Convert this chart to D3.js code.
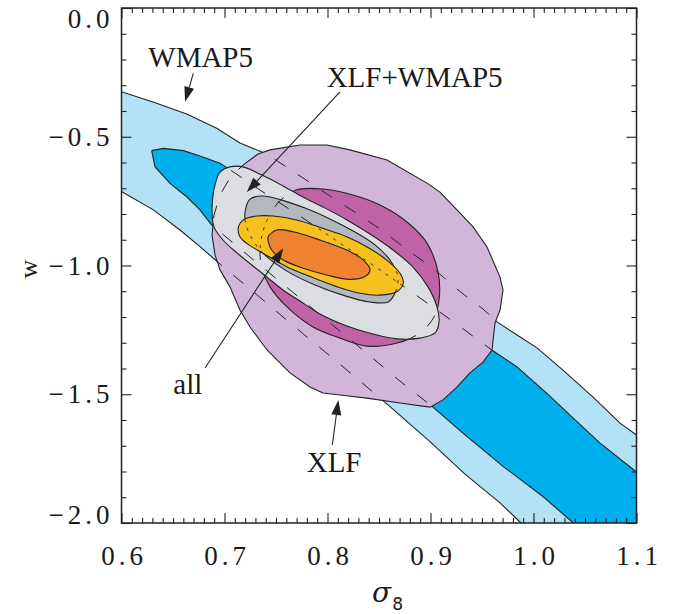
<!DOCTYPE html>
<html><head><meta charset="utf-8">
<script src="https://cdn.jsdelivr.net/npm/d3@7"></script>
<style>body{margin:0;background:#fff}svg{display:block}</style>
</head><body><svg id="chart" width="673" height="614"></svg>
<script>
// ---------- data (sigma_8, w) ----------
const xTicks = [0.6, 0.7, 0.8, 0.9, 1.0, 1.1];
const yTicks = [0.0, -0.5, -1.0, -1.5, -2.0];
const xTickLabels = ["0.6", "0.7", "0.8", "0.9", "1.0", "1.1"];
const yTickLabels = ["0.0", "\u22120.5", "\u22121.0", "\u22121.5", "\u22122.0"];

// WMAP5 95% band edges
const wmap2Upper = [[0.600,-0.325],[0.6306,-0.365],[0.6633,-0.412],[0.6924,-0.467],[0.7150,-0.524],[0.7410,-0.567],[0.7762,-0.660],[0.8024,-0.730],[0.8277,-0.796],[0.8539,-0.866],[0.8762,-0.936],[0.9024,-1.010],[0.9267,-1.095],[0.9510,-1.169],[0.9646,-1.219],[0.9840,-1.270],[1.0034,-1.320],[1.0286,-1.406],[1.0578,-1.511],[1.0840,-1.612],[1.100,-1.658]];
const wmap2Lower = [[0.600,-0.713],[0.6309,-0.784],[0.6568,-0.862],[0.6762,-0.927],[0.6988,-1.005],[0.7248,-1.091],[0.7636,-1.223],[0.8024,-1.351],[0.8316,-1.449],[0.8607,-1.548],[0.8995,-1.684],[0.9335,-1.810],[0.9675,-1.922],[0.9879,-2.000]];
// WMAP5 68% band edges
const wmap1Upper = [[0.6293,-0.554],[0.6406,-0.545],[0.6600,-0.554],[0.6762,-0.575],[0.6956,-0.603],[0.7021,-0.619],[0.7345,-0.707],[0.7733,-0.808],[0.8121,-0.913],[0.8510,-1.017],[0.8898,-1.126],[0.9238,-1.223],[0.9594,-1.328],[0.9837,-1.393],[1.0128,-1.496],[1.0354,-1.581],[1.0646,-1.690],[1.100,-1.802]];
const wmap1Lower = [[0.6293,-0.554],[0.6325,-0.616],[0.6471,-0.681],[0.6633,-0.733],[0.6762,-0.784],[0.6876,-0.843],[0.7248,-0.967],[0.7636,-1.095],[0.8024,-1.223],[0.8413,-1.351],[0.8704,-1.449],[0.9027,-1.551],[0.9318,-1.652],[0.9707,-1.781],[1.0095,-1.898],[1.0386,-2.000]];

// XLF
const xlf2 = [[0.7325,-0.567],[0.7442,-0.551],[0.7733,-0.532],[0.7995,-0.532],[0.8218,-0.551],[0.8578,-0.590],[0.8966,-0.680],[0.9092,-0.715],[0.9257,-0.784],[0.9413,-0.850],[0.9549,-0.928],[0.9675,-1.045],[0.9704,-1.095],[0.9675,-1.173],[0.9626,-1.223],[0.9597,-1.328],[0.9510,-1.375],[0.9383,-1.417],[0.9257,-1.472],[0.9121,-1.522],[0.8995,-1.550],[0.8704,-1.534],[0.8383,-1.515],[0.8121,-1.503],[0.7956,-1.495],[0.7830,-1.472],[0.7636,-1.417],[0.7413,-1.328],[0.7248,-1.239],[0.7150,-1.173],[0.7053,-1.083],[0.6956,-1.017],[0.6908,-0.959],[0.6879,-0.882],[0.6898,-0.804],[0.6956,-0.726],[0.7053,-0.660],[0.7180,-0.610]];
const xlf1 = [[0.7694,-0.707],[0.7956,-0.703],[0.8248,-0.726],[0.8510,-0.765],[0.8772,-0.831],[0.8966,-0.913],[0.9073,-1.025],[0.9083,-1.134],[0.9034,-1.200],[0.8898,-1.262],[0.8675,-1.301],[0.8383,-1.313],[0.8121,-1.282],[0.7859,-1.239],[0.7607,-1.161],[0.7442,-1.083],[0.7364,-1.010],[0.7345,-0.940],[0.7393,-0.843],[0.7519,-0.757]];

// XLF+WMAP5
const comb2 = [[0.6908,-0.687],[0.6956,-0.637],[0.7053,-0.617],[0.7180,-0.617],[0.7364,-0.649],[0.7568,-0.691],[0.7762,-0.734],[0.7956,-0.773],[0.8189,-0.823],[0.8413,-0.878],[0.8636,-0.940],[0.8830,-1.006],[0.8976,-1.083],[0.9063,-1.161],[0.9083,-1.219],[0.9044,-1.262],[0.8898,-1.282],[0.8675,-1.285],[0.8442,-1.266],[0.8189,-1.235],[0.7927,-1.188],[0.7733,-1.138],[0.7568,-1.095],[0.7413,-1.045],[0.7277,-1.002],[0.7121,-0.951],[0.6985,-0.901],[0.6898,-0.850],[0.6879,-0.784],[0.6889,-0.726]];
const comb1 = [[0.7209,-0.773],[0.7248,-0.742],[0.7364,-0.730],[0.7558,-0.746],[0.7782,-0.777],[0.8024,-0.819],[0.8267,-0.870],[0.8461,-0.920],[0.8607,-0.979],[0.8684,-1.045],[0.8655,-1.107],[0.8588,-1.142],[0.8413,-1.142],[0.8170,-1.118],[0.7879,-1.076],[0.7587,-1.017],[0.7364,-0.948],[0.7248,-0.882],[0.7199,-0.823]];

// all
const all2 = [[0.7133,-0.856],[0.7182,-0.823],[0.7313,-0.808],[0.7474,-0.808],[0.7701,-0.823],[0.7959,-0.856],[0.8186,-0.888],[0.8381,-0.927],[0.8575,-0.979],[0.8704,-1.030],[0.8736,-1.069],[0.8672,-1.102],[0.8510,-1.115],[0.8316,-1.108],[0.8089,-1.082],[0.7830,-1.043],[0.7604,-1.005],[0.7377,-0.953],[0.7216,-0.914],[0.7150,-0.888]];
const all1 = [[0.7425,-0.888],[0.7507,-0.862],[0.7668,-0.869],[0.7927,-0.901],[0.8186,-0.940],[0.8348,-0.979],[0.8413,-1.017],[0.8364,-1.043],[0.8218,-1.054],[0.7992,-1.037],[0.7765,-1.011],[0.7571,-0.979],[0.7458,-0.940],[0.7425,-0.907]];

// annotations
const labels = ["WMAP5", "XLF+WMAP5", "all", "XLF"];
const labelAnchors = [[0.626,-0.228],[0.7992,-0.307],[0.6503,-1.499],[0.7798,-1.801]];
const arrowFrom = [[0.6697,-0.254],[0.8121,-0.326],[0.6811,-1.398],[0.8047,-1.697]];
const arrowTo = [[0.6617,-0.364],[0.7216,-0.715],[0.7571,-0.933],[0.8105,-1.522]];

// ---------- drawing ----------
const C = {wmap2:"#b3e1f5", wmap1:"#00b0ec", xlf2:"#d1b6d9", xlf1:"#c063a6",
           comb2:"#dcdde2", comb1:"#b3b8bf", all2:"#f8c01e", all1:"#f08232",
           line:"#222", text:"#1a1a1a"};
const X0 = 121.5, X1 = 636.5, Y0 = 8, Y1 = 523;
const x = d3.scaleLinear().domain([0.6, 1.1]).range([X0, X1]);
const y = d3.scaleLinear().domain([-2.0, 0.0]).range([Y1, Y0]);

const svg = d3.select("#chart");
const defs = svg.append("defs");
defs.append("clipPath").attr("id","plot").append("rect")
  .attr("x",X0).attr("y",Y0).attr("width",X1-X0).attr("height",Y1-Y0);

const open = d3.line().x(d=>x(d[0])).y(d=>y(d[1]));
const linClosed = d3.line().x(d=>x(d[0])).y(d=>y(d[1])).curve(d3.curveLinearClosed);
const smooth = d3.line().x(d=>x(d[0])).y(d=>y(d[1])).curve(d3.curveCatmullRomClosed.alpha(0.5));

const wmap2Poly = wmap2Upper.concat([[1.1,-2.0]], wmap2Lower.slice().reverse());
const wmap1Poly = wmap1Upper.concat([[1.1,-2.0]], wmap1Lower.slice().reverse().slice(0,-1));

const cXG = defs.append("clipPath").attr("id","cxg");
cXG.append("path").attr("d", linClosed(xlf2));
cXG.append("path").attr("d", smooth(comb2));
defs.append("clipPath").attr("id","cg").append("path").attr("d", smooth(comb2));
defs.append("clipPath").attr("id","ca").append("path").attr("d", smooth(all2));

const g = svg.append("g").attr("clip-path","url(#plot)");

// WMAP5
g.append("path").attr("d", linClosed(wmap2Poly)).attr("fill", C.wmap2);
g.append("path").attr("d", linClosed(wmap1Poly)).attr("fill", C.wmap1);
const wmapLines = [wmap2Upper, wmap2Lower, wmap1Upper, wmap1Lower];
wmapLines.forEach(l => g.append("path").attr("d", open(l)).attr("fill","none")
  .attr("stroke", C.line).attr("stroke-width", 1.1));

// XLF
g.append("path").attr("d", linClosed(xlf2)).attr("fill", C.xlf2).attr("stroke", C.line).attr("stroke-width", 1.1);
g.append("path").attr("d", smooth(xlf1)).attr("fill", C.xlf1).attr("stroke", C.line).attr("stroke-width", 1.1);

// XLF+WMAP5
g.append("path").attr("d", smooth(comb2)).attr("fill", C.comb2).attr("stroke", C.line).attr("stroke-width", 1.1);
g.append("path").attr("d", smooth(comb1)).attr("fill", C.comb1).attr("stroke", C.line).attr("stroke-width", 1.1);

// hidden contours, dashed
const gd1 = g.append("g").attr("clip-path","url(#cxg)");
wmapLines.forEach(l => gd1.append("path").attr("d", open(l)).attr("fill","none")
  .attr("stroke", C.line).attr("stroke-width", 1).attr("stroke-dasharray","13,15"));
const gd2 = g.append("g").attr("clip-path","url(#cg)");
gd2.append("path").attr("d", linClosed(xlf2)).attr("fill","none").attr("stroke", C.line).attr("stroke-width",1).attr("stroke-dasharray","13,15");
gd2.append("path").attr("d", smooth(xlf1)).attr("fill","none").attr("stroke", C.line).attr("stroke-width",1).attr("stroke-dasharray","13,15");

// all
g.append("path").attr("d", smooth(all2)).attr("fill", C.all2).attr("stroke", C.line).attr("stroke-width", 1.1);
g.append("path").attr("d", smooth(all1)).attr("fill", C.all1).attr("stroke", C.line).attr("stroke-width", 1.1);

const gd3 = g.append("g").attr("clip-path","url(#ca)");
wmapLines.forEach(l => gd3.append("path").attr("d", open(l)).attr("fill","none")
  .attr("stroke", C.line).attr("stroke-width", 0.9).attr("stroke-dasharray","3,6"));
[linClosed(xlf2), smooth(xlf1), smooth(comb2), smooth(comb1)].forEach(d =>
  gd3.append("path").attr("d", d).attr("fill","none").attr("stroke", C.line)
    .attr("stroke-width", 0.9).attr("stroke-dasharray","3,6"));

// annotations
const ann = svg.append("g");
labels.forEach((t,i) => {
  ann.append("text").attr("x", x(labelAnchors[i][0])).attr("y", y(labelAnchors[i][1]))
    .attr("font-family","'Liberation Serif', serif").attr("font-size", 29)
    .attr("fill", C.text).text(t);
  const x1 = x(arrowFrom[i][0]), y1 = y(arrowFrom[i][1]);
  const x2 = x(arrowTo[i][0]), y2 = y(arrowTo[i][1]);
  const a = Math.atan2(y2-y1, x2-x1), L = 15, H = 5;
  const bx = x2 - L*Math.cos(a), by = y2 - L*Math.sin(a);
  ann.append("line").attr("x1",x1).attr("y1",y1).attr("x2",bx).attr("y2",by)
    .attr("stroke", C.line).attr("stroke-width", 1.1);
  ann.append("path").attr("d", `M${x2},${y2}L${bx - H*Math.sin(a)},${by + H*Math.cos(a)}L${bx + H*Math.sin(a)},${by - H*Math.cos(a)}Z`)
    .attr("fill", C.line);
});

// axes
const minorX = d3.range(60, 111).map(v => v/100).filter(v => Math.round(v*100) % 10 !== 0);
const minorY = d3.range(-20, 1).map(v => v/10).filter(v => Math.round(v*10) % 5 !== 0);
const tickFont = "'Liberation Serif', serif";

function styleAxis(sel){
  sel.select(".domain").remove();
  sel.selectAll("line").attr("stroke", C.line).attr("stroke-width", 1.1);
  sel.selectAll("text").attr("font-family", tickFont).attr("font-size", 27)
     .attr("fill", C.text).attr("letter-spacing", "4px");
}

const xb = svg.append("g").attr("transform",`translate(0,${Y1})`)
  .call(d3.axisBottom(x).tickValues(xTicks).tickFormat((d,i)=>xTickLabels[i]).tickSizeInner(-10).tickSizeOuter(0).tickPadding(23));
styleAxis(xb); xb.selectAll("text").attr("dx", 2);
svg.append("g").attr("transform",`translate(0,${Y1})`)
  .call(d3.axisBottom(x).tickValues(minorX).tickFormat("").tickSizeInner(-5).tickSizeOuter(0)).call(styleAxis);
svg.append("g").attr("transform",`translate(0,${Y0})`)
  .call(d3.axisTop(x).tickValues(xTicks).tickFormat("").tickSizeInner(-10).tickSizeOuter(0)).call(styleAxis);
svg.append("g").attr("transform",`translate(0,${Y0})`)
  .call(d3.axisTop(x).tickValues(minorX).tickFormat("").tickSizeInner(-5).tickSizeOuter(0)).call(styleAxis);

const yl = svg.append("g").attr("transform",`translate(${X0},0)`)
  .call(d3.axisLeft(y).tickValues(yTicks).tickFormat((d,i)=>yTickLabels[i]).tickSizeInner(-10).tickSizeOuter(0).tickPadding(8));
styleAxis(yl);
yl.selectAll("text").attr("y", d => d === yTicks[0] ? 11 : (d === yTicks[yTicks.length-1] ? -8 : 0));
svg.append("g").attr("transform",`translate(${X0},0)`)
  .call(d3.axisLeft(y).tickValues(minorY).tickFormat("").tickSizeInner(-5).tickSizeOuter(0)).call(styleAxis);
svg.append("g").attr("transform",`translate(${X1},0)`)
  .call(d3.axisRight(y).tickValues(yTicks).tickFormat("").tickSizeInner(-10).tickSizeOuter(0)).call(styleAxis);
svg.append("g").attr("transform",`translate(${X1},0)`)
  .call(d3.axisRight(y).tickValues(minorY).tickFormat("").tickSizeInner(-5).tickSizeOuter(0)).call(styleAxis);

svg.append("rect").attr("x",X0).attr("y",Y0).attr("width",X1-X0).attr("height",Y1-Y0)
  .attr("fill","none").attr("stroke", C.line).attr("stroke-width", 1.5);

// axis titles
const xt = svg.append("text").attr("x", 372).attr("y", 602).attr("fill", C.text);
xt.append("tspan").attr("font-family","'DejaVu Serif', serif").attr("font-style","italic").attr("font-size", 28).text("\u03c3");
xt.append("tspan").attr("font-family","'DejaVu Sans', sans-serif").attr("font-size", 17).attr("dy", 8).attr("dx", 1).text("8");
svg.append("text").attr("transform", "translate(37,269) rotate(-90)").attr("text-anchor","middle")
  .attr("font-family","'Liberation Serif', serif").attr("font-size", 26).attr("fill", C.text).text("w");
</script></body></html>
